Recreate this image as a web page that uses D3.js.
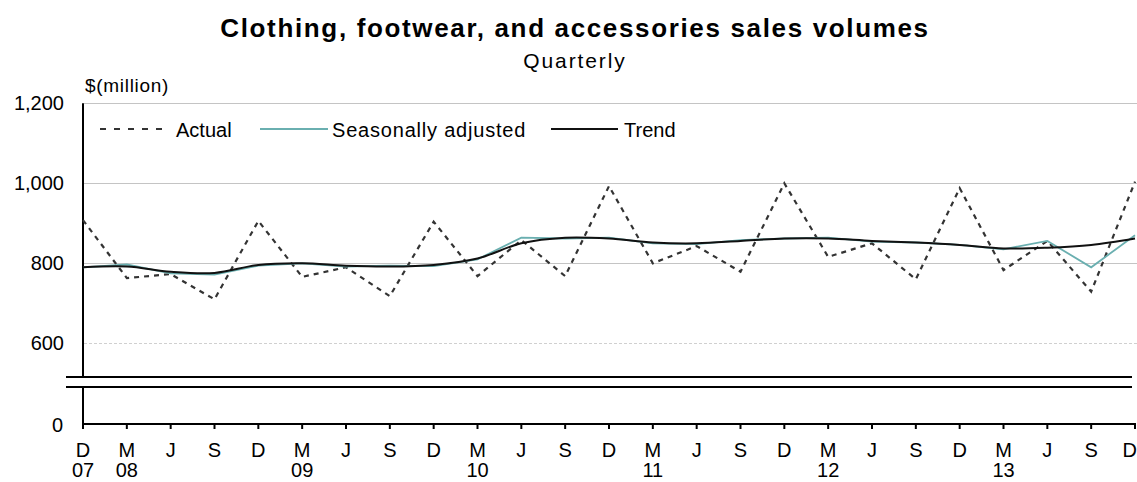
<!DOCTYPE html>
<html>
<head>
<meta charset="utf-8">
<script src="https://cdn.jsdelivr.net/npm/d3@7"></script>
<style>
  html, body { margin: 0; padding: 0; background: #fff; }
  svg { display: block; font-family: "Liberation Sans", Arial, sans-serif; }
</style>
</head>
<body>
<svg id="chart" width="1137" height="482"></svg>
<script>
// ---- data ----
const quarters = ["D","M","J","S","D","M","J","S","D","M","J","S","D","M","J","S","D","M","J","S","D","M","J","S","D"];
const years    = ["07","08","","","","09","","","","10","","","","11","","","","12","","","","13","","",""];
const actual   = [908, 763, 773, 710, 906, 766, 790, 718, 904, 768, 858, 768, 993, 800, 843, 779, 1000, 816, 850, 760, 988, 783, 856, 729, 1004];
const seasAdj  = [790, 797, 775, 772, 794, 800, 792, 794, 793, 810, 864, 862, 864, 850, 848, 858, 862, 864, 854, 852, 846, 835, 856, 790, 870];
const trend    = [790, 792, 779, 776, 796, 800, 794, 792, 796, 812, 850, 864, 862, 852, 850, 856, 862, 862, 856, 852, 846, 837, 839, 846, 862];
const yTicks   = [600, 800, 1000, 1200];
const yTickLabels = ["600", "800", "1,000", "1,200"];

const svg = d3.select("#chart");
const x = d3.scaleLinear().domain([0, quarters.length - 1]).range([83, 1135]);
const y = d3.scaleLinear().domain([600, 1200]).range([343.3, 103.3]);
const yZero = 424;
const breakTop = 377, breakBot = 387;

// title
svg.append("text").attr("x", 575).attr("y", 37).attr("text-anchor", "middle")
  .attr("font-size", 26).attr("font-weight", "bold").attr("letter-spacing", 1.65)
  .text("Clothing, footwear, and accessories sales volumes");
svg.append("text").attr("x", 575).attr("y", 68).attr("text-anchor", "middle")
  .attr("font-size", 21).attr("letter-spacing", 1.9).text("Quarterly");
svg.append("text").attr("x", 85).attr("y", 92).attr("font-size", 19)
  .attr("letter-spacing", 0.7).text("$(million)");

// gridlines
svg.append("g").selectAll("line").data(yTicks).join("line")
  .attr("x1", 84).attr("x2", 1137)
  .attr("y1", d => Math.round(y(d)) + 0.5).attr("y2", d => Math.round(y(d)) + 0.5)
  .attr("stroke", d => d === 600 ? "#d0d0d0" : "#c4c4c4").attr("stroke-width", 1.2)
  .attr("stroke-dasharray", d => d === 600 ? "3,2" : null);

// y labels
svg.append("g").selectAll("text").data(yTicks).join("text")
  .attr("x", 64).attr("y", d => y(d) + 7).attr("text-anchor", "end")
  .attr("font-size", 20).text((d, i) => yTickLabels[i]);
svg.append("text").attr("x", 63).attr("y", 432).attr("text-anchor", "end")
  .attr("font-size", 20).text("0");

// axes
svg.append("line").attr("x1", 83).attr("x2", 83).attr("y1", y(1200)).attr("y2", breakTop)
  .attr("stroke", "#000").attr("stroke-width", 2);
svg.append("line").attr("x1", 83).attr("x2", 83).attr("y1", breakBot).attr("y2", yZero + 5)
  .attr("stroke", "#000").attr("stroke-width", 2);
[breakTop, breakBot].forEach(yy => {
  svg.append("line").attr("x1", 66).attr("x2", 1132).attr("y1", yy).attr("y2", yy)
    .attr("stroke", "#000").attr("stroke-width", 2);
});
svg.append("line").attr("x1", 82).attr("x2", 1136).attr("y1", yZero).attr("y2", yZero)
  .attr("stroke", "#000").attr("stroke-width", 2);
svg.append("g").selectAll("line").data(quarters).join("line")
  .attr("x1", (d, i) => x(i)).attr("x2", (d, i) => x(i))
  .attr("y1", yZero).attr("y2", yZero + 5).attr("stroke", "#000").attr("stroke-width", 2);
const last = quarters.length - 1;
svg.append("g").selectAll("text").data(quarters).join("text")
  .attr("x", (d, i) => i === last ? 1137 : x(i)).attr("y", 457)
  .attr("text-anchor", (d, i) => i === last ? "end" : "middle")
  .attr("font-size", 20).text(d => d);
svg.append("g").selectAll("text").data(years).join("text")
  .attr("x", (d, i) => x(i)).attr("y", 477).attr("text-anchor", "middle")
  .attr("font-size", 20).text(d => d);

// series
const lineStraight = d3.line().x((d, i) => x(i)).y(d => y(d));
const lineSmooth = d3.line().x((d, i) => x(i)).y(d => y(d)).curve(d3.curveCatmullRom.alpha(0.5));
svg.append("path").datum(actual).attr("d", lineStraight).attr("fill", "none")
  .attr("stroke", "#333").attr("stroke-width", 2.2).attr("stroke-dasharray", "5,5");
svg.append("path").datum(seasAdj).attr("d", lineStraight).attr("fill", "none")
  .attr("stroke", "#6aafb0").attr("stroke-width", 1.8);
svg.append("path").datum(trend).attr("d", lineSmooth).attr("fill", "none")
  .attr("stroke", "#111").attr("stroke-width", 2);

// legend
const leg = svg.append("g");
leg.append("line").attr("x1", 100).attr("x2", 165).attr("y1", 129).attr("y2", 129)
  .attr("stroke", "#333").attr("stroke-width", 2).attr("stroke-dasharray", "6,8");
leg.append("text").attr("x", 176).attr("y", 137).attr("font-size", 20).text("Actual");
leg.append("line").attr("x1", 260).attr("x2", 328).attr("y1", 129).attr("y2", 129)
  .attr("stroke", "#6aafb0").attr("stroke-width", 1.8);
leg.append("text").attr("x", 332).attr("y", 137).attr("font-size", 20)
  .attr("letter-spacing", 0.8).text("Seasonally adjusted");
leg.append("line").attr("x1", 551).attr("x2", 618).attr("y1", 129).attr("y2", 129)
  .attr("stroke", "#111").attr("stroke-width", 2);
leg.append("text").attr("x", 624).attr("y", 137).attr("font-size", 20).text("Trend");
</script>
</body>
</html>
